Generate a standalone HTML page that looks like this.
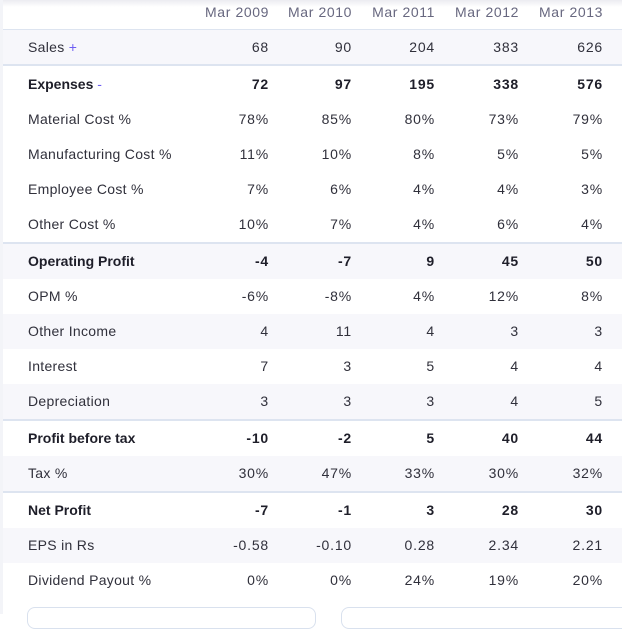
<!DOCTYPE html>
<html><head><meta charset="utf-8">
<style>
html,body{margin:0;padding:0;}
body{width:622px;height:614px;position:relative;overflow:hidden;background:#fff;font-family:"Liberation Sans",Arial,sans-serif;font-size:14px;color:#30303b;}
.strip{position:absolute;left:0;top:0;width:3px;height:614px;background:#f3f4f8;}
.shadow{position:absolute;left:3px;right:0;top:0;height:7px;background:linear-gradient(#ececf1,rgba(255,255,255,0));}
.row{position:absolute;left:3px;right:0;}
.row span{position:absolute;white-space:nowrap;letter-spacing:0.8px;}
.row span.lab{left:25px;letter-spacing:0.3px;}
.c1{right:353px}.c2{right:270px}.c3{right:187px}.c4{right:103px}.c5{right:19px}
.s{background:#f7f7fb;}
.b{font-weight:bold;color:#1e1e29;}
.row.b span.lab{letter-spacing:0;}
.hd{color:#67677f;}
.hd span{letter-spacing:0.6px !important;}
.line{position:absolute;left:3px;right:0;background:#dde4f0;}
.pl{color:#6d5df2;}
.card{position:absolute;top:607px;height:20px;border:1px solid #d9e1ee;border-radius:8px;background:#fff;}
</style></head><body>
<div class="strip"></div>
<div class="shadow"></div>

<div class="row hd" style="top:0;height:24px;line-height:24px;">
<span class="c1">Mar 2009</span><span class="c2">Mar 2010</span><span class="c3">Mar 2011</span><span class="c4">Mar 2012</span><span class="c5">Mar 2013</span></div>
<div class="line" style="top:29px;height:1px;"></div>

<div class="row s" style="top:30px;height:34px;line-height:34px;"><span class="lab">Sales <span class="pl" style="position:static">+</span></span><span class="c1">68</span><span class="c2">90</span><span class="c3">204</span><span class="c4">383</span><span class="c5">626</span></div>
<div class="line" style="top:64px;height:2px;"></div>

<div class="row b" style="top:66px;height:36px;line-height:36px;"><span class="lab">Expenses <span class="pl" style="position:static;font-weight:normal">-</span></span><span class="c1">72</span><span class="c2">97</span><span class="c3">195</span><span class="c4">338</span><span class="c5">576</span></div>
<div class="row" style="top:102px;height:35px;line-height:35px;"><span class="lab">Material Cost %</span><span class="c1">78%</span><span class="c2">85%</span><span class="c3">80%</span><span class="c4">73%</span><span class="c5">79%</span></div>
<div class="row" style="top:137px;height:35px;line-height:35px;"><span class="lab">Manufacturing Cost %</span><span class="c1">11%</span><span class="c2">10%</span><span class="c3">8%</span><span class="c4">5%</span><span class="c5">5%</span></div>
<div class="row" style="top:172px;height:35px;line-height:35px;"><span class="lab">Employee Cost %</span><span class="c1">7%</span><span class="c2">6%</span><span class="c3">4%</span><span class="c4">4%</span><span class="c5">3%</span></div>
<div class="row" style="top:207px;height:35px;line-height:35px;"><span class="lab">Other Cost %</span><span class="c1">10%</span><span class="c2">7%</span><span class="c3">4%</span><span class="c4">6%</span><span class="c5">4%</span></div>
<div class="line" style="top:242px;height:2px;"></div>

<div class="row s b" style="top:244px;height:35px;line-height:35px;"><span class="lab">Operating Profit</span><span class="c1">-4</span><span class="c2">-7</span><span class="c3">9</span><span class="c4">45</span><span class="c5">50</span></div>
<div class="row" style="top:279px;height:35px;line-height:35px;"><span class="lab">OPM %</span><span class="c1">-6%</span><span class="c2">-8%</span><span class="c3">4%</span><span class="c4">12%</span><span class="c5">8%</span></div>
<div class="row s" style="top:314px;height:35px;line-height:35px;"><span class="lab">Other Income</span><span class="c1">4</span><span class="c2">11</span><span class="c3">4</span><span class="c4">3</span><span class="c5">3</span></div>
<div class="row" style="top:349px;height:35px;line-height:35px;"><span class="lab">Interest</span><span class="c1">7</span><span class="c2">3</span><span class="c3">5</span><span class="c4">4</span><span class="c5">4</span></div>
<div class="row s" style="top:384px;height:35px;line-height:35px;"><span class="lab">Depreciation</span><span class="c1">3</span><span class="c2">3</span><span class="c3">3</span><span class="c4">4</span><span class="c5">5</span></div>
<div class="line" style="top:419px;height:2px;"></div>

<div class="row b" style="top:421px;height:35px;line-height:35px;"><span class="lab">Profit before tax</span><span class="c1">-10</span><span class="c2">-2</span><span class="c3">5</span><span class="c4">40</span><span class="c5">44</span></div>
<div class="row s" style="top:456px;height:35px;line-height:35px;"><span class="lab">Tax %</span><span class="c1">30%</span><span class="c2">47%</span><span class="c3">33%</span><span class="c4">30%</span><span class="c5">32%</span></div>
<div class="line" style="top:491px;height:2px;"></div>

<div class="row b" style="top:493px;height:35px;line-height:35px;"><span class="lab">Net Profit</span><span class="c1">-7</span><span class="c2">-1</span><span class="c3">3</span><span class="c4">28</span><span class="c5">30</span></div>
<div class="row s" style="top:528px;height:35px;line-height:35px;"><span class="lab">EPS in Rs</span><span class="c1">-0.58</span><span class="c2">-0.10</span><span class="c3">0.28</span><span class="c4">2.34</span><span class="c5">2.21</span></div>
<div class="row" style="top:563px;height:35px;line-height:35px;"><span class="lab">Dividend Payout %</span><span class="c1">0%</span><span class="c2">0%</span><span class="c3">24%</span><span class="c4">19%</span><span class="c5">20%</span></div>

<div class="card" style="left:27px;width:287px;"></div>
<div class="card" style="left:341px;width:300px;"></div>
</body></html>
